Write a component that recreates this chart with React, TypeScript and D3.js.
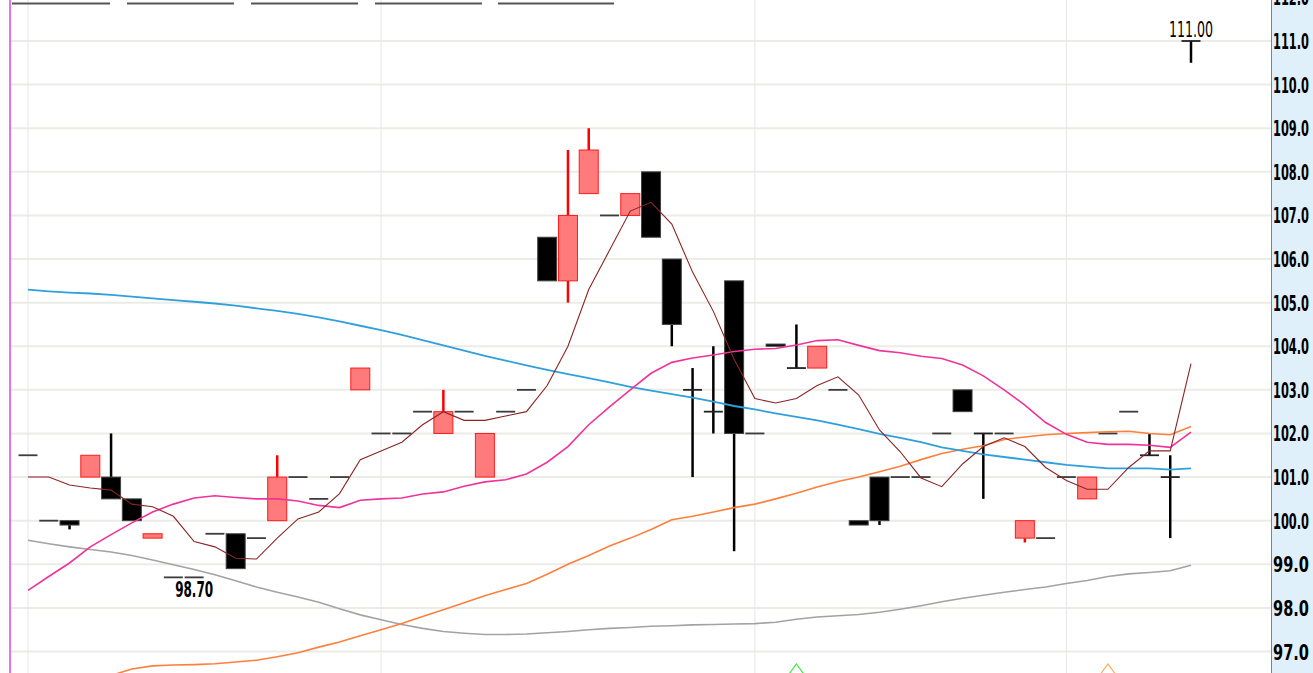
import React from "react";
import * as d3 from "d3";

// ---- data ----
const openP = [101.5,100.0,100.0,101.0,101.0,100.5,99.6,98.7,98.7,99.7,99.7,99.6,100.0,101.0,100.5,101.0,103.0,102.0,102.0,102.5,102.0,102.5,101.0,102.5,103.0,106.5,105.5,107.5,107.0,107.0,108.0,106.0,103.0,102.5,105.5,102.0,104.05,103.5,103.5,103.0,100.0,101.0,101.0,101.0,102.0,103.0,102.0,102.0,99.6,99.6,101.0,100.5,102.0,102.5,101.5,101.0,111.0];
const highP = [101.5,100.0,100.0,101.5,102.0,100.5,99.7,98.7,98.7,99.7,99.7,99.6,101.5,101.0,100.5,101.0,103.5,102.0,102.0,102.5,103.0,102.5,102.0,102.5,103.0,106.5,108.5,109.0,107.0,107.5,108.0,106.0,103.5,104.0,105.5,102.0,104.05,104.5,104.0,103.0,100.0,101.0,101.0,101.0,102.0,103.0,102.0,102.0,100.0,99.6,101.0,101.0,102.0,102.5,102.0,101.5,111.0];
const lowP = [101.5,100.0,99.8,101.0,100.5,100.0,99.6,98.7,98.7,99.7,98.9,99.6,100.0,101.0,100.5,101.0,103.0,102.0,102.0,102.5,102.0,102.5,101.0,102.5,103.0,105.5,105.0,107.5,107.0,107.0,106.5,104.0,101.0,102.0,99.3,102.0,104.0,103.5,103.5,103.0,99.9,99.9,101.0,101.0,102.0,102.5,100.5,102.0,99.5,99.6,101.0,100.5,102.0,102.5,101.5,99.6,110.5];
const closeP = [101.5,100.0,99.9,101.5,100.5,100.0,99.7,98.7,98.7,99.7,98.9,99.6,101.0,101.0,100.5,101.0,103.5,102.0,102.0,102.5,102.5,102.5,102.0,102.5,103.0,105.5,107.0,108.5,107.0,107.5,106.5,104.5,103.0,102.5,102.0,102.0,104.0,103.5,104.0,103.0,99.9,100.0,101.0,101.0,102.0,102.5,102.0,102.0,100.0,99.6,101.0,101.0,102.0,102.5,101.5,101.0,111.0];

const ma5 = [101.0,101.0,100.82,100.75,100.7,100.38,100.32,100.1,99.52,99.4,99.14,99.12,99.6,100.04,100.2,100.62,101.4,101.6,101.8,102.2,102.5,102.3,102.3,102.4,102.5,103.1,104.0,105.3,106.2,107.1,107.3,106.8,105.7,104.8,103.7,102.8,102.7,102.8,103.1,103.3,102.88,102.08,101.58,100.98,100.78,101.3,101.7,101.9,101.7,101.22,100.92,100.72,100.72,101.22,101.6,101.6,103.6];
const ma20 = [98.4,98.72,99.03,99.4,99.68,99.95,100.2,100.38,100.52,100.57,100.53,100.5,100.5,100.45,100.35,100.3,100.47,100.5,100.52,100.61,100.66,100.79,100.89,100.94,101.07,101.34,101.7,102.2,102.61,103.0,103.38,103.63,103.73,103.8,103.88,103.93,103.95,104.03,104.13,104.15,104.02,103.9,103.85,103.77,103.72,103.57,103.32,103.0,102.65,102.25,101.98,101.8,101.75,101.75,101.73,101.68,102.03];
const maBlue = [105.3,105.26,105.23,105.21,105.18,105.14,105.1,105.06,105.02,104.98,104.93,104.87,104.81,104.74,104.66,104.57,104.47,104.37,104.26,104.14,104.02,103.9,103.78,103.67,103.56,103.46,103.36,103.27,103.17,103.07,102.98,102.9,102.82,102.73,102.63,102.55,102.46,102.38,102.3,102.2,102.1,101.99,101.9,101.8,101.68,101.6,101.52,101.46,101.4,101.34,101.28,101.24,101.2,101.2,101.2,101.17,101.2];
const maOrange = [96.1,96.2,96.3,96.38,96.45,96.6,96.67,96.69,96.7,96.72,96.76,96.8,96.88,96.97,97.1,97.22,97.36,97.5,97.64,97.8,97.96,98.12,98.28,98.42,98.56,98.77,99.0,99.2,99.42,99.6,99.8,100.02,100.1,100.2,100.3,100.38,100.5,100.63,100.77,100.9,101.0,101.12,101.25,101.4,101.54,101.64,101.72,101.86,101.92,101.97,102.0,102.02,102.04,102.05,102.0,101.97,102.16];
const maGray = [99.55,99.47,99.4,99.34,99.28,99.2,99.1,98.99,98.88,98.76,98.62,98.48,98.36,98.25,98.13,97.98,97.84,97.73,97.62,97.53,97.46,97.42,97.39,97.39,97.4,97.43,97.46,97.5,97.53,97.55,97.58,97.59,97.61,97.62,97.63,97.64,97.67,97.74,97.79,97.82,97.85,97.9,97.97,98.05,98.14,98.22,98.29,98.36,98.42,98.48,98.56,98.63,98.72,98.78,98.81,98.85,98.98];

const yTicks = [97,98,99,100,101,102,103,104,105,106,107,108,109,110,111,112];
const monthStarts = [0, 17, 35, 50];
const signalIdx = [37, 52];
const signalColors = ["#3ee83e", "#ffab5c"];
const highLabel = "111.00";
const lowLabel = "98.70";
const highIdx = 56;
const lowIdx = 8;

const W = 1313;
const H = 673;
const axisX = 1271;

export default function App() {
  const x = d3.scaleLinear().domain([0, 56]).range([28, 1191]);
  const y = d3.scaleLinear().domain([111, 97]).range([41, 651.5]);
  const bw = 19;
  const fmt = d3.format(".1f");

  const line = (arr: number[]) =>
    d3.line<number>().x((_, i) => x(i)).y((v) => y(v))(arr) || "";

  const legendSegs = [[12, 110], [127, 234], [251, 358], [375, 482], [498, 614]];

  return (
    <svg
      width={W}
      height={H}
      style={{ position: "absolute", left: 0, top: 0, background: "#fff" }}
      fontFamily="'Liberation Sans Narrow', 'DejaVu Sans Condensed', 'Liberation Sans', sans-serif"
    >
      <defs>
        <clipPath id="plot">
          <rect x={10} y={0} width={axisX - 10} height={H} />
        </clipPath>
      </defs>
      {/* horizontal gridlines */}
      {yTicks.map((t) => (
        <line key={"g" + t} x1={10} x2={axisX} y1={y(t)} y2={y(t)} stroke="#ebebe7" strokeWidth={2} />
      ))}
      {/* vertical gridlines */}
      {monthStarts.map((i) => (
        <line key={"v" + i} x1={x(i)} x2={x(i)} y1={0} y2={H} stroke="#e6e6e6" strokeWidth={1} />
      ))}
      {/* top legend underline segments */}
      {legendSegs.map(([a, b], k) => (
        <line key={"l" + k} x1={a} x2={b} y1={3.5} y2={3.5} stroke="#555" strokeWidth={2} />
      ))}
      <g clipPath="url(#plot)">
        {/* candles */}
        {closeP.map((c, i) => {
          const o = openP[i], h = highP[i], l = lowP[i];
          const cx = x(i);
          const up = c > o;
          const flat = c === o;
          const wickColor = up ? "#ff0000" : "#000";
          const top = Math.max(o, c), bot = Math.min(o, c);
          return (
            <g key={"c" + i}>
              {h > top && (
                <line x1={cx} x2={cx} y1={y(h)} y2={y(top)} stroke={wickColor} strokeWidth={2.5} />
              )}
              {l < bot && (
                <line x1={cx} x2={cx} y1={y(bot)} y2={y(l)} stroke={wickColor} strokeWidth={2.5} />
              )}
              {flat ? (
                <line x1={cx - bw / 2} x2={cx + bw / 2} y1={y(o)} y2={y(o)} stroke={h > o || l < o ? "#222" : "#3c3c3c"} strokeWidth={1.8} />
              ) : (
                <rect
                  x={cx - bw / 2}
                  y={y(top)}
                  width={bw}
                  height={Math.max(1.5, y(bot) - y(top))}
                  fill={up ? "#ff7b7b" : "#000"}
                  stroke={up ? "#ff1a1a" : "#444"}
                  strokeWidth={1}
                />
              )}
            </g>
          );
        })}
        {/* moving averages */}
        <path d={line(maGray)} fill="none" stroke="#a3a3a3" strokeWidth={1.6} />
        <path d={line(maOrange)} fill="none" stroke="#ff7f3c" strokeWidth={1.6} />
        <path d={line(maBlue)} fill="none" stroke="#2fa0dc" strokeWidth={1.8} />
        <path d={line(ma20)} fill="none" stroke="#f0339a" strokeWidth={1.6} />
        <path d={line(ma5)} fill="none" stroke="#8b2525" strokeWidth={1.1} />
        {/* signal triangles */}
        {signalIdx.map((i, k) => (
          <path
            key={"s" + i}
            d={`M${x(i)},664 L${x(i) + 11},679 L${x(i) - 11},679 Z`}
            fill="none"
            stroke={signalColors[k]}
            strokeWidth={1.2}
          />
        ))}
      </g>
      {/* high / low labels */}
      <text x={x(highIdx)} y={37} textAnchor="middle" fontSize={21} textLength={44} lengthAdjust="spacingAndGlyphs" fill="#000">
        {highLabel}
      </text>
      <text x={x(lowIdx)} y={597} textAnchor="middle" fontSize={21} fontWeight="bold" textLength={38} lengthAdjust="spacingAndGlyphs" fill="#000">
        {lowLabel}
      </text>
      {/* right axis */}
      <rect x={axisX} y={0} width={W - axisX} height={H} fill="#dff0fb" />
      <line x1={axisX + 0.5} x2={axisX + 0.5} y1={0} y2={H} stroke="#e040e0" strokeWidth={1} />
      <line x1={10} x2={10} y1={0} y2={H} stroke="#e040f0" strokeWidth={1.5} />
      {yTicks.map((t) => (
        <text
          key={"t" + t}
          transform={`translate(${axisX + 2},${y(t) + 8}) scale(1,1.65)`}
          fontSize={12.5}
          fontWeight="bold"
          textLength={36}
          lengthAdjust="spacingAndGlyphs"
          fill="#000"
        >
          {fmt(t)}
        </text>
      ))}
    </svg>
  );
}
